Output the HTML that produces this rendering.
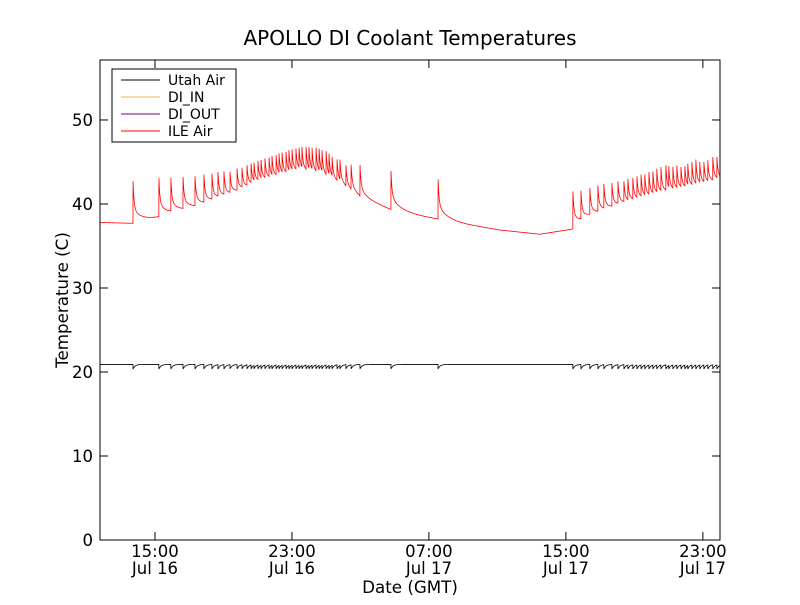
<!DOCTYPE html>
<html><head><meta charset="utf-8"><style>
body{margin:0;background:#fff;}
svg text{font-family:"DejaVu Sans","Liberation Sans",sans-serif;}
</style></head><body>
<svg id="chart" width="800" height="600" viewBox="0 0 800 600">
<rect width="800" height="600" fill="#fff"/>
<text x="410" y="45" font-size="20" text-anchor="middle">APOLLO DI Coolant Temperatures</text>
<g id="plot"></g>
<rect x="100" y="60" width="620" height="480" fill="none" stroke="#000" stroke-width="1"/>
<g id="axes"></g>
<text x="410" y="593" font-size="16.7" text-anchor="middle">Date (GMT)</text>
<text transform="translate(68,300) rotate(-90)" font-size="16.7" text-anchor="middle">Temperature (C)</text>
<g>
<rect x="112" y="69" width="124" height="73" fill="#fff" stroke="#000"/>
<g><line x1="121" x2="160" y1="80" y2="80" stroke="#000" stroke-width="1"/><text x="168" y="85" font-size="14">Utah Air</text></g>
<g><line x1="121" x2="160" y1="97" y2="97" stroke="#f0b060" stroke-width="1"/><text x="168" y="102" font-size="14">DI_IN</text></g>
<g><line x1="121" x2="160" y1="114" y2="114" stroke="#800080" stroke-width="1"/><text x="168" y="119" font-size="14">DI_OUT</text></g>
<g><line x1="121" x2="160" y1="131" y2="131" stroke="#f00" stroke-width="1"/><text x="168" y="136" font-size="14">ILE Air</text></g>
</g>
</svg>
<script>
// time in hours since Jul 16 00:00 GMT
const xTickValues=[15,23,31,39,47];
const xTickLabels=[["15:00","Jul 16"],["23:00","Jul 16"],["07:00","Jul 17"],["15:00","Jul 17"],["23:00","Jul 17"]];
const yTickValues=[0,10,20,30,40,50];
const spikeTimes=[13.72,15.23,15.93,16.64,17.34,17.86,18.33,18.68,19.03,19.38,19.79,20.08,20.37,20.61,20.78,21.01,21.19,21.42,21.66,21.83,22.07,22.24,22.42,22.65,22.82,23.0,23.23,23.41,23.58,23.82,23.99,24.17,24.40,24.58,24.75,24.99,25.16,25.34,25.63,25.80,26.15,26.45,26.97,28.78,31.53,
39.41,39.88,40.40,40.87,41.22,41.69,42.04,42.39,42.62,42.91,43.15,43.39,43.61,43.85,44.08,44.31,44.55,44.84,45.01,45.25,45.48,45.72,45.95,46.12,46.36,46.59,46.82,47.06,47.29,47.58,47.82];
const spikePeaks=[42.7,43.1,43.1,43.2,43.3,43.5,43.6,43.8,43.9,44.0,44.4,44.5,44.8,45.0,45.1,45.3,45.4,45.6,45.7,45.9,46.0,46.2,46.3,46.4,46.6,46.7,46.8,46.9,47.0,47.0,47.0,46.9,46.9,46.8,46.6,46.5,46.2,45.8,45.5,45.5,44.8,44.9,44.9,44.2,43.2,
41.5,41.6,41.9,42.2,42.4,42.5,42.7,42.7,43.0,43.1,43.3,43.5,43.5,43.8,43.9,44.2,44.4,44.6,44.5,44.4,44.6,44.4,44.5,44.8,45.0,45.3,45.0,45.0,45.2,45.6,45.6];
const baseTimes=[11.79,13.72,15.0,17.63,19.38,21.13,23.47,24.64,25.80,26.97,28.14,28.78,30.47,31.53,33.39,35.15,37.48,39.35,40.40,42.15,44.49,46.82,48.0];
const baseValues=[37.8,37.7,38.3,39.6,40.8,42.3,43.5,43.0,42.0,40.5,39.8,39.3,38.6,38.2,37.5,36.9,36.4,37.0,38.3,39.6,40.8,41.8,42.5];
const utahBase=[20.9,20.9,20.9,20.9,20.9,20.9,20.9,20.9,20.9,20.9,20.9,20.9,20.9,20.9,20.9,20.9,20.9,20.9,20.9,20.9,20.9,20.9,20.9];
const xMin=11.79,xMax=48.0,yMin=0,yMax=57.14;
const X=t=>100+(t-xMin)/(xMax-xMin)*620;
const Y=v=>540-(v-yMin)/(yMax-yMin)*480;
function interp(ts,vs,t){if(t<=ts[0])return vs[0];for(let i=1;i<ts.length;i++){if(t<=ts[i]){const f=(t-ts[i-1])/(ts[i]-ts[i-1]);return vs[i-1]+f*(vs[i]-vs[i-1]);}}return vs[vs.length-1];}
function lastSpike(t){let k=-1;for(let i=0;i<spikeTimes.length;i++){if(spikeTimes[i]<=t)k=i;}return k;}
function ile(t){const b=interp(baseTimes,baseValues,t);const k=lastSpike(t);if(k<0)return b;const dt=t-spikeTimes[k];const a=spikePeaks[k]-interp(baseTimes,baseValues,spikeTimes[k]);return b+a*(0.65*Math.exp(-dt/0.06)+0.35*Math.exp(-dt/0.5));}
function utah(t){const b=interp(baseTimes,utahBase,t);const k=lastSpike(t);if(k<0)return b;const dt=t-spikeTimes[k];return b-0.55*Math.exp(-dt/0.12);}
const plot=document.getElementById('plot');
const NS='http://www.w3.org/2000/svg';
function series(fn,color,name){let d='';for(let t=xMin;t<=xMax;t+=0.005){d+=(d?'L':'M')+X(t).toFixed(2)+','+Y(fn(t)).toFixed(2);}
const p=document.createElementNS(NS,'path');p.setAttribute('d',d);p.setAttribute('fill','none');p.setAttribute('stroke',color);p.setAttribute('stroke-width','0.8');


plot.appendChild(p);}
series(utah,'#000','utah-air-line');
series(ile,'#f00','ile-air-line');
const ax=document.getElementById('axes');
function el(tag,attrs,txt){const e=document.createElementNS(NS,tag);for(const k in attrs)e.setAttribute(k,attrs[k]);if(txt!==undefined)e.textContent=txt;ax.appendChild(e);return e;}
xTickValues.forEach((v,i)=>{const x=X(v);
const t1=el('line',{x1:x,x2:x,y1:540,y2:532,stroke:'#000'});


el('line',{x1:x,x2:x,y1:60,y2:68,stroke:'#000'});
const l=el('text',{x:x,y:557,'font-size':16.5,'text-anchor':'middle'},xTickLabels[i][0]);


const l2=el('text',{x:x,y:574,'font-size':16.5,'text-anchor':'middle'},xTickLabels[i][1]);

});
yTickValues.forEach(v=>{const y=Y(v);
const t1=el('line',{x1:100,x2:108,y1:y,y2:y,stroke:'#000'});


el('line',{x1:712,x2:720,y1:y,y2:y,stroke:'#000'});
const l=el('text',{x:93,y:y+6,'font-size':16.5,'text-anchor':'end'},String(v));

});
</script>
</body></html>
